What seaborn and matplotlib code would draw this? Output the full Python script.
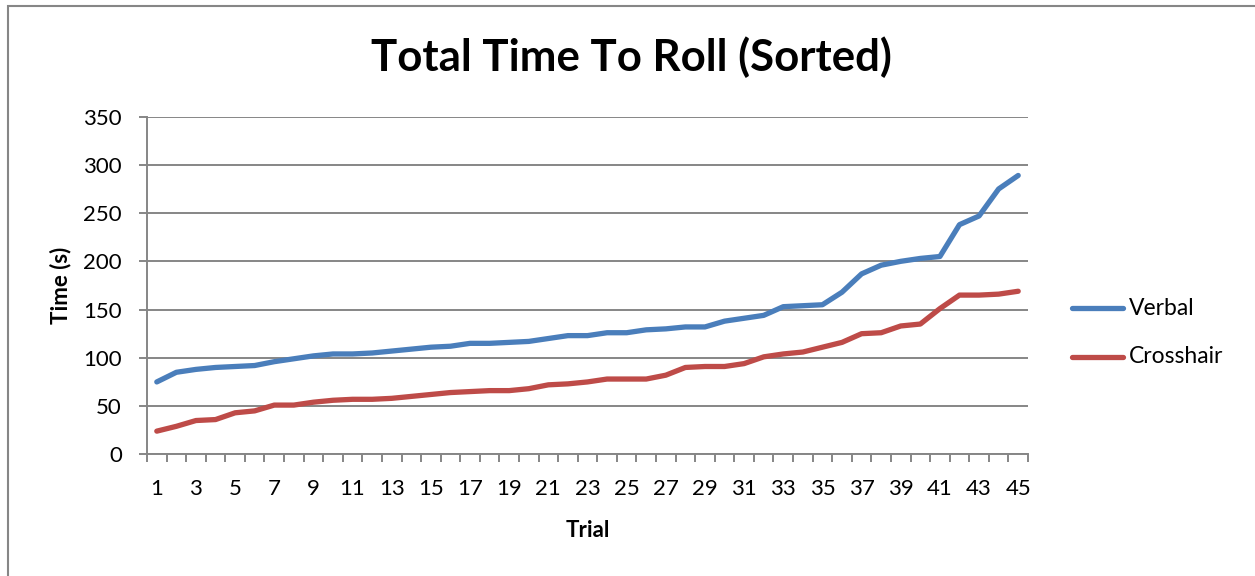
import numpy as np
import pandas as pd
import matplotlib
matplotlib.use("Agg")
import matplotlib.pyplot as plt
from matplotlib.patches import Rectangle
import seaborn as sns

trials = list(range(1, 46))
verbal = [75, 85, 88, 90, 91, 92, 96, 99, 102, 104, 104, 105, 107, 109, 111, 112,
          115, 115, 116, 117, 120, 123, 123, 126, 126, 129, 130, 132, 132, 138, 141,
          144, 153, 154, 155, 168, 187, 196, 200, 203, 205, 238, 247, 275, 289]
crosshair = [24, 29, 35, 36, 43, 45, 51, 51, 54, 56, 57, 57, 58, 60, 62, 64, 65, 66,
             66, 68, 72, 73, 75, 78, 78, 78, 82, 90, 91, 91, 94, 101, 104, 106, 111,
             116, 125, 126, 133, 135, 151, 165, 165, 166, 169]
series_names = ["Verbal", "Crosshair"]
series_colors = ["#4A7EBB", "#BE4B48"]
y_ticks = [0, 50, 100, 150, 200, 250, 300, 350]
x_labels = list(range(1, 46, 2))

df = pd.DataFrame({
    "Trial": trials * 2,
    "Time (s)": verbal + crosshair,
    "Series": [series_names[0]] * len(trials) + [series_names[1]] * len(trials),
})

sns.set_theme(style="white")
plt.rcParams["font.family"] = ["Lato", "DejaVu Sans"]
plt.rcParams["text.color"] = "black"
plt.rcParams["axes.labelcolor"] = "black"

W, H = 1255, 576
fig = plt.figure(figsize=(W / 100, H / 100), dpi=100)
ax = fig.add_axes([147 / W, 1 - 454.3 / H, (1028 - 147) / W, (454.3 - 116.6) / H])

sns.lineplot(data=df, x="Trial", y="Time (s)", hue="Series", hue_order=series_names,
             palette=series_colors, linewidth=3.8, ax=ax, legend=False,
             solid_capstyle="round")

grid_c = "#868686"
ax.set_xlim(0.5, 45.5)
ax.set_ylim(0, 350)
ax.set_yticks(y_ticks)
ax.set_xticks(x_labels)
ax.set_xticks(np.arange(0.5, 46, 1), minor=True)
ax.yaxis.grid(True, color=grid_c, linewidth=1.4)
ax.xaxis.grid(False)
for s in ["top", "right"]:
    ax.spines[s].set_visible(False)
for s in ["left", "bottom"]:
    ax.spines[s].set_color(grid_c)
    ax.spines[s].set_linewidth(1.4)
ax.tick_params(axis="y", which="major", length=6, width=1.4, color=grid_c,
               pad=12, labelsize=16, labelcolor="black", left=True)
ax.tick_params(axis="x", which="major", length=0, pad=18, labelsize=16,
               labelcolor="black", bottom=True)
ax.tick_params(axis="x", which="minor", length=6, width=1.4, color=grid_c, bottom=True)

ax.set_xlabel("Trial", fontsize=16, fontweight="bold", labelpad=15, color="black")
ax.set_ylabel("Time (s)", fontsize=16, fontweight="bold", labelpad=9, color="black")

fig.text(631 / W, 1 - 57 / H, "Total Time To Roll (Sorted)", ha="center", va="center",
         fontsize=31.5, fontweight="bold", color="black")

# legend drawn at the right of the plot area
for i, (name, col) in enumerate(zip(series_names, series_colors)):
    yy = 1 - (308.3 + 48.4 * i) / H
    fig.add_artist(plt.Line2D([1072 / W, 1123 / W], [yy, yy], color=col, linewidth=3.8,
                              solid_capstyle="round", transform=fig.transFigure))
    fig.text(1129 / W, yy, name, ha="left", va="center", fontsize=16.5, color="black")

# chart frame
fig.add_artist(Rectangle((8 / W, -0.1), 1.2, 1 - 5.5 / H + 0.1, transform=fig.transFigure,
                         fill=False, edgecolor="#868686", linewidth=1.5))

fig.savefig("out.png", dpi=100, facecolor="white")
